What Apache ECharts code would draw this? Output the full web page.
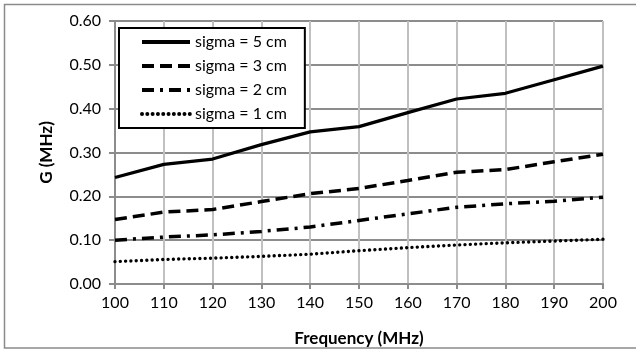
<!DOCTYPE html>
<html><head><meta charset="utf-8">
<script src="https://cdn.jsdelivr.net/npm/echarts@6/dist/echarts.min.js"></script>
<style>html,body{margin:0;padding:0;background:#fff}#c{width:636px;height:352px}</style>
</head><body><div id="c"></div>
<script>
const frequencies = [100, 110, 120, 130, 140, 150, 160, 170, 180, 190, 200];
const sigma5 = [0.243, 0.273, 0.285, 0.318, 0.347, 0.359, 0.391, 0.422, 0.435, 0.466, 0.497];
const sigma3 = [0.147, 0.164, 0.170, 0.188, 0.206, 0.218, 0.236, 0.255, 0.261, 0.279, 0.296];
const sigma2 = [0.100, 0.107, 0.112, 0.120, 0.130, 0.145, 0.160, 0.175, 0.183, 0.189, 0.198];
const sigma1 = [0.051, 0.056, 0.059, 0.063, 0.068, 0.076, 0.083, 0.089, 0.094, 0.098, 0.102];
const seriesNames = ['sigma = 5 cm', 'sigma = 3 cm', 'sigma = 2 cm', 'sigma = 1 cm'];
const xTitle = 'Frequency (MHz)';
const yTitle = 'G (MHz)';

const FONT = 'Lato, "Open Sans", sans-serif';
const pairs = arr => frequencies.map((f, i) => [f, arr[i]]);
const styles = [
  {type: 'solid', width: 3.2, cap: 'butt'},
  {type: [12, 6], width: 3.5, cap: 'butt'},
  {type: [12, 6, 3, 6], width: 3.5, cap: 'butt'},
  {type: [0.01, 5.3], width: 3.4, cap: 'round'}
];
const allData = [sigma5, sigma3, sigma2, sigma1];

const chart = echarts.init(document.getElementById('c'), null, {renderer: 'canvas'});
chart.setOption({
  animation: false,
  backgroundColor: '#fff',
  textStyle: {fontFamily: FONT},
  graphic: [{
    type: 'rect', silent: true,
    shape: {x: 4.5, y: 4.5, width: 640, height: 343.5},
    style: {fill: 'none', stroke: '#8a8a8a', lineWidth: 1.5}
  }],
  grid: {left: 115, right: 33, top: 21, bottom: 66},
  legend: {
    left: 119, top: 28,
    orient: 'vertical',
    data: seriesNames,
    itemWidth: 48, itemHeight: 14, itemGap: 8,
    padding: [6, 18, 6, 21],
    borderColor: '#000', borderWidth: 2, backgroundColor: '#fff',
    textStyle: {fontFamily: FONT, fontSize: 16, color: '#000'},
    itemStyle: {opacity: 0},
    lineStyle: {width: 4},
    z: 10
  },
  xAxis: {
    type: 'value', min: 100, max: 200, interval: 10,
    name: xTitle, nameLocation: 'middle', nameGap: 46,
    nameTextStyle: {fontFamily: FONT, fontSize: 17, fontWeight: 'bold', color: '#000'},
    axisLine: {show: true, lineStyle: {color: '#8c8c8c', width: 2}},
    axisTick: {show: true, length: 5, lineStyle: {color: '#8c8c8c', width: 2}},
    axisLabel: {fontFamily: FONT, fontSize: 16, color: '#000', margin: 11},
    splitLine: {show: true, lineStyle: {color: '#c0c0c0', width: 2}}
  },
  yAxis: {
    type: 'value', min: 0, max: 0.6, interval: 0.1,
    name: yTitle, nameLocation: 'middle', nameGap: 60, nameRotate: 90,
    nameTextStyle: {fontFamily: FONT, fontSize: 17, fontWeight: 'bold', color: '#000'},
    axisLine: {show: true, lineStyle: {color: '#8c8c8c', width: 2}},
    axisTick: {show: true, length: 6, lineStyle: {color: '#8c8c8c', width: 2}},
    axisLabel: {fontFamily: FONT, fontSize: 16, color: '#000', margin: 14,
      formatter: v => v.toFixed(2)},
    splitLine: {show: true, lineStyle: {color: '#8c8c8c', width: 2}}
  },
  series: seriesNames.map((n, k) => ({
    name: n, type: 'line', data: pairs(allData[k]),
    symbol: 'none', z: 5,
    lineStyle: {color: '#000', width: styles[k].width, type: styles[k].type, cap: styles[k].cap},
    itemStyle: {color: '#000'}
  }))
});
</script></body></html>
